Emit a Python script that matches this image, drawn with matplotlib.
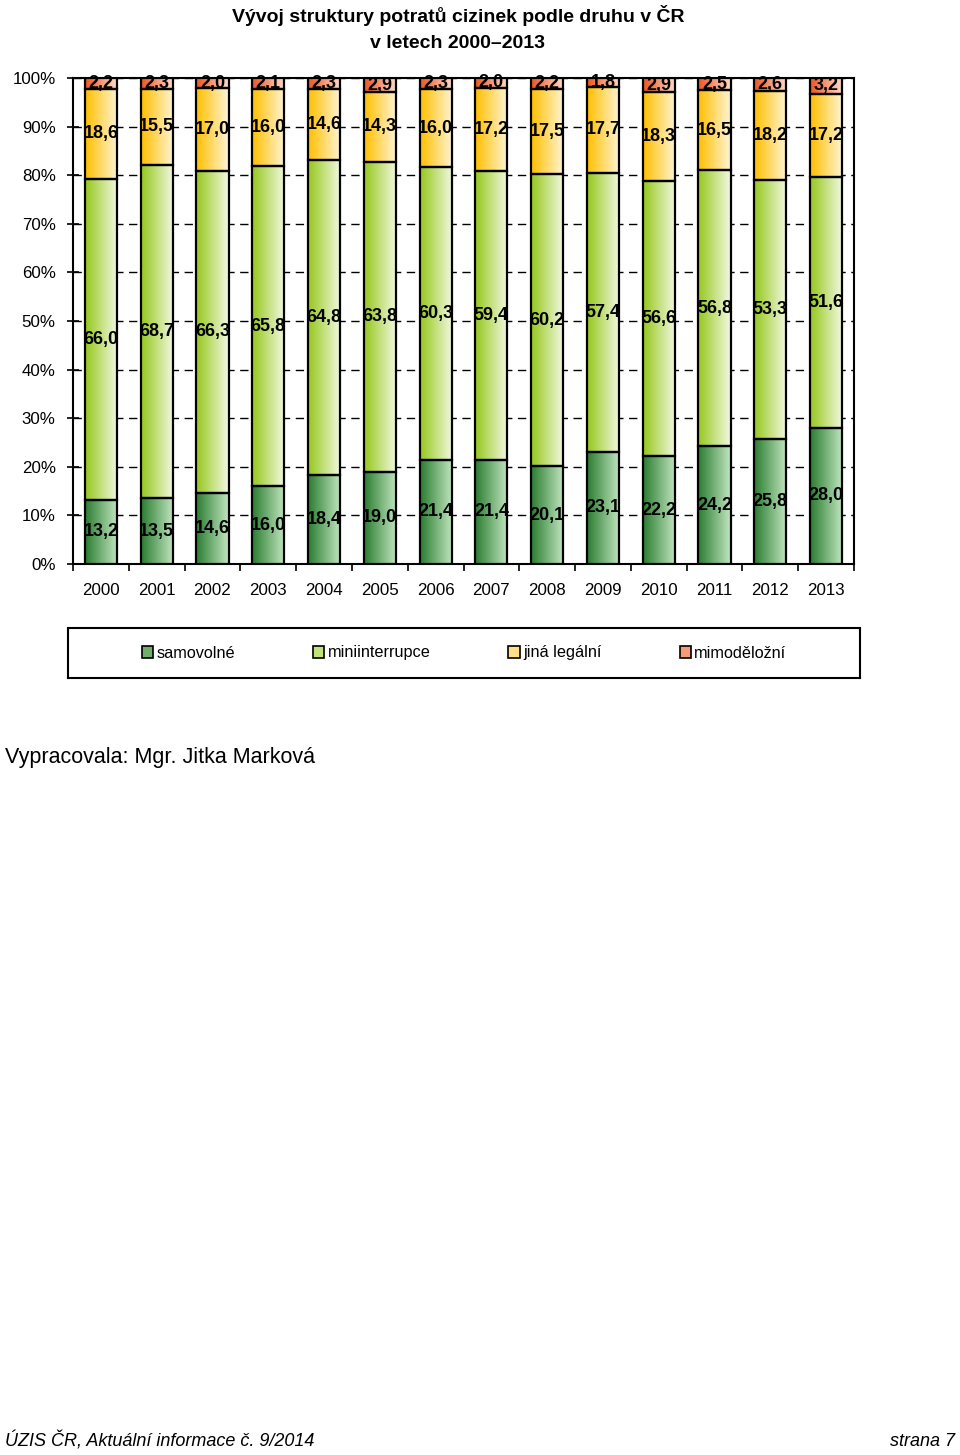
import numpy as np
import matplotlib
matplotlib.use("Agg")
import matplotlib.pyplot as plt
from matplotlib.colors import LinearSegmentedColormap
from matplotlib.patches import Patch

years = ["2000", "2001", "2002", "2003", "2004", "2005", "2006",
         "2007", "2008", "2009", "2010", "2011", "2012", "2013"]
samovolne = [13.2, 13.5, 14.6, 16.0, 18.4, 19.0, 21.4, 21.4, 20.1, 23.1, 22.2, 24.2, 25.8, 28.0]
mini = [66.0, 68.7, 66.3, 65.8, 64.8, 63.8, 60.3, 59.4, 60.2, 57.4, 56.6, 56.8, 53.3, 51.6]
jina = [18.6, 15.5, 17.0, 16.0, 14.6, 14.3, 16.0, 17.2, 17.5, 17.7, 18.3, 16.5, 18.2, 17.2]
mimo = [2.2, 2.3, 2.0, 2.1, 2.3, 2.9, 2.3, 2.0, 2.2, 1.8, 2.9, 2.5, 2.6, 3.2]
series_names = ["samovolné", "miniinterrupce", "jiná legální", "mimoděložní"]
series = [samovolne, mini, jina, mimo]
grad = [("#2b7d31", "#c2e6c0"), ("#96c81e", "#f3f9e2"),
        ("#ffbf00", "#fff5d6"), ("#ee5522", "#ffdccc")]
legend_cols = ["#6fae6c", "#c4e27a", "#ffe088", "#f79a78"]

plt.rcParams['font.family'] = ['Liberation Sans', 'DejaVu Sans']
fig = plt.figure(figsize=(9.6, 14.55), dpi=100)
W, H = 960, 1455
ax = fig.add_axes([73 / W, 1 - 564 / H, (854 - 73) / W, (564 - 78) / H])

x = np.arange(len(years))
bw = 0.575
bottom = np.zeros(len(years))
for vals, (c0, c1) in zip(series, grad):
    bars = ax.bar(x, vals, bw, bottom=bottom, facecolor="none",
                  edgecolor="black", linewidth=1.6, zorder=4)
    cmap = LinearSegmentedColormap.from_list("g", [c0, c1])
    img = np.linspace(0, 1, 64).reshape(1, -1)
    for b, v, b0 in zip(bars, vals, bottom):
        bx, by = b.get_x(), b.get_y()
        ax.imshow(img, cmap=cmap, aspect="auto", interpolation="bilinear",
                  extent=[bx, bx + b.get_width(), by, by + b.get_height()],
                  zorder=3)
        ax.text(bx + b.get_width() / 2, by + b.get_height() / 2,
                f"{v:.1f}".replace(".", ","), ha="center", va="center",
                fontsize=13, fontweight="bold", zorder=5,
                family=['Liberation Sans Narrow', 'Liberation Sans', 'DejaVu Sans'])
    bottom = bottom + np.array(vals)

ax.set_xlim(-0.5, len(years) - 0.5)
ax.set_ylim(0, 100)
ax.set_yticks(np.arange(0, 101, 10))
ax.set_yticklabels([f"{v}%" for v in range(0, 101, 10)], fontsize=12.2)
ax.tick_params(axis="y", direction="inout", length=9, width=1.2, pad=8)
ax.set_xticks(x)
ax.set_xticklabels(years, fontsize=12.2)
ax.set_xticks(np.arange(-0.5, len(years), 1), minor=True)
ax.tick_params(axis="x", which="major", length=0, pad=14)
ax.tick_params(axis="x", which="minor", direction="out", length=5, width=1.2)
ax.yaxis.grid(True, color="black", linestyle=(0, (6, 4)), linewidth=1.0, zorder=1)
ax.set_axisbelow(True)
for s in ax.spines.values():
    s.set_linewidth(1.5)
    s.set_color("black")

# title
fig.text(458 / W, 1 - 16 / H, "Vývoj struktury potratů cizinek podle druhu v ČR",
         ha="center", va="center", fontsize=14, fontweight="bold")
fig.text(458 / W, 1 - 43 / H, "v letech 2000–2013",
         ha="center", va="center", fontsize=14, fontweight="bold")

# legend box
lax = fig.add_axes([68 / W, 1 - 678 / H, (860 - 68) / W, 50 / H])
lax.set_xticks([]); lax.set_yticks([])
for s in lax.spines.values():
    s.set_linewidth(1.5)
handles = [Patch(facecolor=c, edgecolor="black", linewidth=1.2) for c in legend_cols]
lax.legend(handles, series_names, loc="center", ncol=4, frameon=False,
           fontsize=11.7, handlelength=0.7, handleheight=0.7, handletextpad=0.2,
           columnspacing=4.8)

fig.text(5 / W, 1 - 757 / H, "Vypracovala: Mgr. Jitka Marková",
         ha="left", va="center", fontsize=15.5)
fig.text(5 / W, 1 - 1441 / H, "ÚZIS ČR, Aktuální informace č. 9/2014",
         ha="left", va="center", fontsize=13, style="italic")
fig.text(955 / W, 1 - 1441 / H, "strana 7",
         ha="right", va="center", fontsize=13, style="italic")

fig.savefig("out.png", dpi=100)
